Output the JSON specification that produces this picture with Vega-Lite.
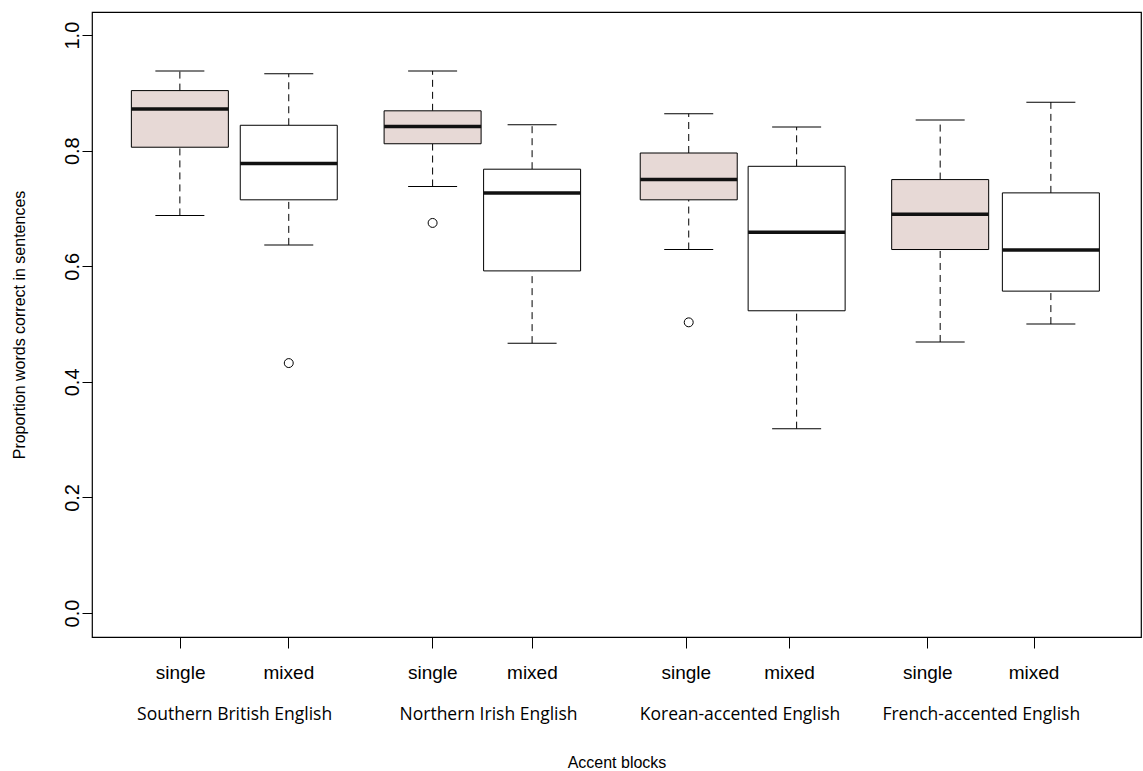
{
  "$schema": "https://vega.github.io/schema/vega-lite/v6.json",
  "width": 1049,
  "height": 625,
  "autosize": {"type": "none"},
  "padding": {"left": 92, "top": 12, "right": 2, "bottom": 134},
  "background": "white",
  "config": {
    "view": {"stroke": "black", "strokeWidth": 1.2},
    "font": "Liberation Sans",
    "axis": {"grid": false, "domain": false, "tickColor": "black", "labelColor": "black", "titleColor": "black", "titleFontWeight": "normal", "tickWidth": 1},
    "axisY": {"labelAngle": -90, "labelAlign": "center", "labelBaseline": "alphabetic",
      "tickSize": 10, "labelPadding": 4, "labelFontSize": 20, "titleFontSize": 16, "titlePadding": 35}
  },
  "datasets": {
    "boxes": [
      {"accent": "Southern British English", "block": "single", "pos": 0.837, "lo": 0.688, "q1": 0.806, "med": 0.872, "q3": 0.904, "hi": 0.938},
      {"accent": "Southern British English", "block": "mixed", "pos": 1.937, "lo": 0.637, "q1": 0.715, "med": 0.778, "q3": 0.844, "hi": 0.933},
      {"accent": "Northern Irish English", "block": "single", "pos": 3.39, "lo": 0.738, "q1": 0.812, "med": 0.842, "q3": 0.869, "hi": 0.938},
      {"accent": "Northern Irish English", "block": "mixed", "pos": 4.395, "lo": 0.467, "q1": 0.592, "med": 0.727, "q3": 0.768, "hi": 0.845},
      {"accent": "Korean-accented English", "block": "single", "pos": 5.977, "lo": 0.629, "q1": 0.715, "med": 0.750, "q3": 0.796, "hi": 0.864},
      {"accent": "Korean-accented English", "block": "mixed", "pos": 7.067, "lo": 0.319, "q1": 0.523, "med": 0.659, "q3": 0.773, "hi": 0.841},
      {"accent": "French-accented English", "block": "single", "pos": 8.517, "lo": 0.469, "q1": 0.629, "med": 0.690, "q3": 0.750, "hi": 0.853},
      {"accent": "French-accented English", "block": "mixed", "pos": 9.635, "lo": 0.500, "q1": 0.557, "med": 0.628, "q3": 0.727, "hi": 0.884}
    ],
    "outliers": [
      {"accent": "Southern British English", "block": "mixed", "pos": 1.937, "value": 0.4325},
      {"accent": "Northern Irish English", "block": "single", "pos": 3.39, "value": 0.675},
      {"accent": "Korean-accented English", "block": "single", "pos": 5.977, "value": 0.503}
    ]
  },
  "layer": [
    {
      "data": {"name": "boxes"},
      "mark": {"type": "rule", "strokeDash": [7, 5], "color": "black", "strokeWidth": 1},
      "encoding": {
        "x": {"field": "pos", "type": "quantitative", "scale": {"domain": [0, 10.495], "nice": false, "zero": false},
          "axis": {"orient": "bottom", "values": [0.84, 1.933, 3.387, 4.393, 5.947, 6.99, 8.387, 9.46],
            "labelExpr": "indexof([0.84, 3.387, 5.947, 8.387], datum.value) >= 0 ? 'single' : 'mixed'",
            "tickSize": 11, "labelPadding": 15, "labelFontSize": 19, "labelFont": "Liberation Sans", "title": null}},
        "y": {"field": "q3", "type": "quantitative", "title": "Proportion words correct in sentences", "scale": {"domain": [-0.0415, 1.04], "nice": false, "zero": false},
          "axis": {"values": [0, 0.2, 0.4, 0.6, 0.8, 1.0], "format": ".1f"}},
        "y2": {"field": "hi"}
      }
    },
    {
      "data": {"name": "boxes"},
      "mark": {"type": "rule", "strokeDash": [7, 5], "color": "black", "strokeWidth": 1},
      "encoding": {
        "x": {"field": "pos", "type": "quantitative", "scale": {"domain": [0, 10.495], "nice": false, "zero": false},
          "axis": {"orient": "bottom", "values": [1.385, 3.95, 6.49, 8.927],
            "labelExpr": "datum.value < 2 ? 'Southern British English' : datum.value < 5 ? 'Northern Irish English' : datum.value < 7 ? 'Korean-accented English' : 'French-accented English'",
            "ticks": false, "tickSize": 0, "labelPadding": 68, "labelFontSize": 17.5, "labelFont": "Open Sans", "labelLimit": 0,
            "title": "Accent blocks", "titleFontSize": 16, "titlePadding": 32, "titleFont": "Liberation Sans"}},
        "y": {"field": "lo", "type": "quantitative", "title": "Proportion words correct in sentences", "scale": {"domain": [-0.0415, 1.04], "nice": false, "zero": false},
          "axis": {"values": [0, 0.2, 0.4, 0.6, 0.8, 1.0], "format": ".1f"}},
        "y2": {"field": "q1"}
      }
    },
    {
      "data": {"name": "boxes"},
      "mark": {"type": "tick", "orient": "horizontal", "size": 49, "thickness": 1, "color": "black", "opacity": 1},
      "encoding": {
        "x": {"field": "pos", "type": "quantitative", "scale": {"domain": [0, 10.495], "nice": false, "zero": false}, "axis": null},
        "y": {"field": "hi", "type": "quantitative", "title": "Proportion words correct in sentences", "scale": {"domain": [-0.0415, 1.04], "nice": false, "zero": false},
          "axis": {"values": [0, 0.2, 0.4, 0.6, 0.8, 1.0], "format": ".1f"}}
      }
    },
    {
      "data": {"name": "boxes"},
      "mark": {"type": "tick", "orient": "horizontal", "size": 49, "thickness": 1, "color": "black", "opacity": 1},
      "encoding": {
        "x": {"field": "pos", "type": "quantitative", "scale": {"domain": [0, 10.495], "nice": false, "zero": false}, "axis": null},
        "y": {"field": "lo", "type": "quantitative", "title": "Proportion words correct in sentences", "scale": {"domain": [-0.0415, 1.04], "nice": false, "zero": false},
          "axis": {"values": [0, 0.2, 0.4, 0.6, 0.8, 1.0], "format": ".1f"}}
      }
    },
    {
      "data": {"name": "boxes"},
      "mark": {"type": "bar", "orient": "vertical", "size": 97, "stroke": "black", "strokeWidth": 1},
      "encoding": {
        "x": {"field": "pos", "type": "quantitative", "scale": {"domain": [0, 10.495], "nice": false, "zero": false}, "axis": null},
        "y": {"field": "q1", "type": "quantitative", "title": "Proportion words correct in sentences", "scale": {"domain": [-0.0415, 1.04], "nice": false, "zero": false},
          "axis": {"values": [0, 0.2, 0.4, 0.6, 0.8, 1.0], "format": ".1f"}},
        "y2": {"field": "q3"},
        "fill": {"field": "block", "type": "nominal", "scale": {"domain": ["single", "mixed"], "range": ["#e7d9d6", "#ffffff"]}, "legend": null}
      }
    },
    {
      "data": {"name": "boxes"},
      "mark": {"type": "tick", "orient": "horizontal", "size": 97, "thickness": 3.5, "color": "#111111", "opacity": 1},
      "encoding": {
        "x": {"field": "pos", "type": "quantitative", "scale": {"domain": [0, 10.495], "nice": false, "zero": false}, "axis": null},
        "y": {"field": "med", "type": "quantitative", "title": "Proportion words correct in sentences", "scale": {"domain": [-0.0415, 1.04], "nice": false, "zero": false},
          "axis": {"values": [0, 0.2, 0.4, 0.6, 0.8, 1.0], "format": ".1f"}}
      }
    },
    {
      "data": {"name": "outliers"},
      "mark": {"type": "point", "shape": "circle", "size": 80, "filled": false, "stroke": "black", "strokeWidth": 1, "opacity": 1},
      "encoding": {
        "x": {"field": "pos", "type": "quantitative", "scale": {"domain": [0, 10.495], "nice": false, "zero": false}, "axis": null},
        "y": {"field": "value", "type": "quantitative", "title": "Proportion words correct in sentences", "scale": {"domain": [-0.0415, 1.04], "nice": false, "zero": false},
          "axis": {"values": [0, 0.2, 0.4, 0.6, 0.8, 1.0], "format": ".1f"}}
      }
    }
  ],
  "resolve": {"axis": {"x": "independent"}}
}
